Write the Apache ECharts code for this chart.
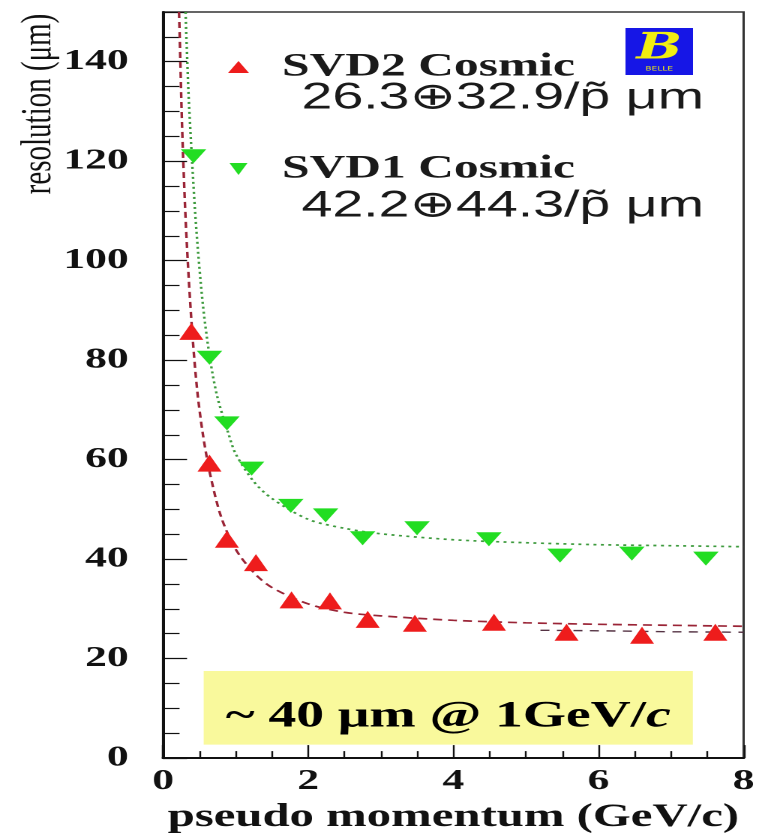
<!DOCTYPE html>
<html>
<head>
<meta charset="utf-8">
<title>SVD cosmic resolution</title>
<script src="https://cdn.jsdelivr.net/npm/echarts@6/dist/echarts.min.js"></script>
<style>
  html, body { margin: 0; padding: 0; background: #ffffff; overflow: hidden; }
  /* the plot is laid out on a narrow canvas and stretched sideways to the window */
  #chart { width: 506px; height: 839px; transform: scaleX(1.5); transform-origin: 0 0; }
</style>
</head>
<body>
<div id="chart"></div>
<script>
// Measured resolution vs. pseudo momentum (GeV/c, micrometres)
const svd2P = [0.39, 0.64, 0.88, 1.28, 1.77, 2.30, 2.82, 3.47, 4.56, 5.56, 6.60, 7.61];
const svd2R = [85.8, 59.3, 44.0, 39.3, 31.8, 31.6, 27.9, 27.1, 27.3, 25.3, 24.7, 25.3];
const svd1P = [0.42, 0.64, 0.88, 1.22, 1.76, 2.24, 2.75, 3.50, 4.49, 5.47, 6.46, 7.48];
const svd1R = [121.0, 80.5, 67.3, 58.2, 50.7, 48.8, 44.2, 46.2, 44.0, 40.7, 41.1, 40.1];

// Fitted curves
const svd2FitP = [0.22, 0.23, 0.26, 0.30, 0.34, 0.40, 0.47, 0.55, 0.65, 0.80, 1.00, 1.25, 1.50, 2.00, 2.50, 3.00, 4.00, 5.00, 6.00, 7.00, 8.00];
const svd2FitR = [150, 145, 128, 112, 100, 86, 74, 65, 57, 48.5, 42, 37.3, 34.3, 31, 29.3, 28.6, 27.7, 27.2, 26.9, 26.7, 26.5];
const svd2TailP = [5.2, 6.0, 7.0, 8.0];
const svd2TailR = [25.7, 25.6, 25.4, 25.3];
const svd1FitP = [0.31, 0.35, 0.40, 0.46, 0.55, 0.65, 0.75, 0.90, 1.00, 1.25, 1.50, 2.00, 2.50, 3.00, 4.00, 5.00, 6.00, 7.00, 8.00];
const svd1FitR = [150, 134, 120, 106, 91, 80, 72.5, 65.3, 61.2, 55.6, 52.2, 48, 46.2, 45.1, 43.9, 43.3, 42.9, 42.7, 42.5];

// Axis ticks
const xTicks = [0, 2, 4, 6, 8];
const yTicks = [0, 20, 40, 60, 80, 100, 120, 140];

const seriesNames = ['SVD2 Cosmic', 'SVD1 Cosmic'];
const fitLabels = ['26.3\u229532.9/p\u0303 \u03bcm', '42.2\u229544.3/p\u0303 \u03bcm'];
const boxText = '~ 40 \u03bcm @ 1GeV/';

const pairs = (xs, ys) => xs.map((x, i) => [x, ys[i]]);

const RED = '#ee1c1c';
const GREEN = '#22dd22';
const SERIF = '"Liberation Serif", "Times New Roman", serif';
const SANS = '"Liberation Sans", Arial, sans-serif';
const downTriangle = 'path://M0,0L10,0L5,10Z';

const chart = echarts.init(document.getElementById('chart'), null, { renderer: 'canvas', devicePixelRatio: 2 });

chart.setOption({
  animation: false,
  backgroundColor: '#ffffff',
  grid: {
    left: 108.7, right: 5.3, top: 12, bottom: 65,
    show: true, borderColor: '#333333', borderWidth: 1.5, backgroundColor: 'transparent'
  },
  legend: {
    orient: 'vertical',
    left: 147, top: 42,
    itemWidth: 14, itemHeight: 12,
    itemGap: 62,
    selectedMode: false,
    data: [
      { name: seriesNames[0], icon: 'triangle', itemStyle: { color: RED } },
      { name: seriesNames[1], icon: downTriangle, itemStyle: { color: GREEN } }
    ],
    textStyle: {
      fontFamily: SERIF, fontWeight: 'bold', fontSize: 33, color: '#1a1a1a',
      lineHeight: 40, padding: [0, 0, 0, 17]
    }
  },
  xAxis: {
    type: 'value',
    min: xTicks[0], max: xTicks[xTicks.length - 1], interval: 2,
    name: 'pseudo momentum (GeV/c)',
    nameLocation: 'middle', nameGap: 36,
    nameTextStyle: { fontFamily: SERIF, fontWeight: 'bold', fontSize: 32.5, color: '#111' },
    axisLine: { lineStyle: { color: '#111', width: 2 } },
    axisTick: { inside: true, length: 13, lineStyle: { color: '#111', width: 1.2 } },
    minorTick: { show: true, splitNumber: 4, length: 7, lineStyle: { color: '#111', width: 1.2 } },
    splitLine: { show: false },
    axisLabel: {
      margin: 9, fontFamily: SERIF, fontWeight: 'bold', fontSize: 29, color: '#111',
      formatter: v => (xTicks.includes(v) ? String(v) : '')
    }
  },
  yAxis: {
    type: 'value',
    min: 0, max: 150, interval: 20,
    axisLine: { lineStyle: { color: '#111', width: 2 } },
    axisTick: { inside: true, length: 16, lineStyle: { color: '#111', width: 1.2 } },
    minorTick: { show: true, splitNumber: 4, length: 11, lineStyle: { color: '#111', width: 1.2 } },
    splitLine: { show: false },
    axisLabel: {
      margin: 23, showMaxLabel: false,
      fontFamily: SERIF, fontWeight: 'bold', fontSize: 29, color: '#111',
      formatter: v => (yTicks.includes(v) ? String(v) : '')
    }
  },
  series: [
    {
      name: 'SVD2 fit', type: 'line', smooth: 0.3, symbol: 'none', clip: true,
      data: pairs(svd2FitP, svd2FitR),
      lineStyle: { color: '#9a2436', width: 1.7, type: [6, 4] },
      z: 2,
      markArea: {
        silent: true,
        itemStyle: { color: '#f9f99c' },
        label: {
          show: true, position: 'inside', offset: [0, 9],
          formatter: '{a|' + boxText + '}{b|c}',
          rich: {
            a: { fontFamily: SERIF, fontWeight: 'bold', fontSize: 37, color: '#000' },
            b: { fontFamily: SERIF, fontWeight: 'bold', fontStyle: 'italic', fontSize: 37, color: '#000' }
          }
        },
        data: [[{ xAxis: 0.56, yAxis: 2.7 }, { xAxis: 7.3, yAxis: 17.5 }]]
      }
    },
    {
      name: 'SVD2 tail', type: 'line', symbol: 'none',
      data: pairs(svd2TailP, svd2TailR),
      lineStyle: { color: '#553344', width: 1.4, type: [6, 5] },
      z: 2
    },
    {
      name: 'SVD1 fit', type: 'line', smooth: 0.3, symbol: 'none', clip: true,
      data: pairs(svd1FitP, svd1FitR),
      lineStyle: { color: '#3c9a3c', width: 1.7, type: [2, 3] },
      z: 2
    },
    {
      name: seriesNames[0], type: 'scatter', symbol: 'triangle', symbolSize: [16, 17],
      data: pairs(svd2P, svd2R),
      itemStyle: { color: RED, opacity: 1 },
      z: 3
    },
    {
      name: seriesNames[1], type: 'scatter', symbol: downTriangle, symbolSize: [17, 14],
      data: pairs(svd1P, svd1R),
      itemStyle: { color: GREEN, opacity: 1 },
      z: 3
    }
  ],
  graphic: [
    {
      type: 'text', left: 201, top: 80,
      style: { text: fitLabels[0], fontFamily: SANS, fontSize: 37, fill: '#1a1a1a' }
    },
    {
      type: 'text', left: 201, top: 188,
      style: { text: fitLabels[1], fontFamily: SANS, fontSize: 37, fill: '#1a1a1a' }
    },
    {
      type: 'text', x: 26, y: 104, rotation: Math.PI / 2, scaleY: 1.0,
      style: {
        text: 'resolution (\u03bcm)', fontFamily: SERIF, fontSize: 29, fill: '#111',
        align: 'center', verticalAlign: 'middle'
      }
    },
    {
      type: 'group', left: 417, top: 28,
      children: [
        { type: 'rect', shape: { x: 0, y: 0, width: 45, height: 47 }, style: { fill: '#1616e6' } },
        {
          type: 'text', x: 22.5, y: 21,
          style: { text: 'B', fontFamily: '"DejaVu Serif", serif', fontStyle: 'italic', fontWeight: 'bold', fontSize: 36, fill: '#f2ee10', align: 'center', verticalAlign: 'middle' }
        },
        {
          type: 'text', x: 22.5, y: 41,
          style: { text: 'BELLE', fontFamily: '"DejaVu Sans", sans-serif', fontSize: 6, fill: '#f2ee10', align: 'center', verticalAlign: 'middle' }
        }
      ]
    }
  ]
});
</script>
</body>
</html>
